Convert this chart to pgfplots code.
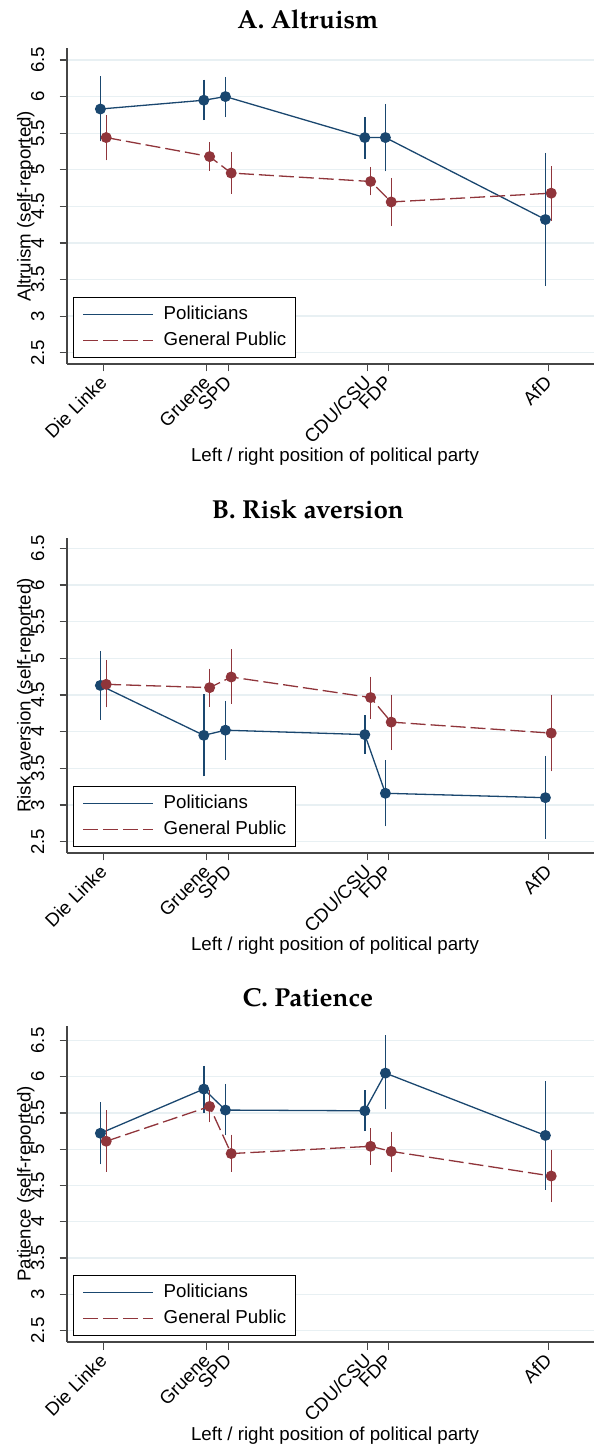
\documentclass[border=0pt]{standalone}
\usepackage{fontspec}
\setmainfont{Liberation Sans}
\newfontfamily\titlefont{TeX Gyre Pagella}
\usepackage{pgfplots}
\pgfplotsset{compat=1.18}
\usepackage{pgfplotstable}

\definecolor{stnavy}{RGB}{26,71,111}
\definecolor{stmaroon}{RGB}{144,53,59}
\definecolor{stgrid}{RGB}{232,240,243}
\definecolor{axgray}{RGB}{70,70,70}

% x = party position, pol/pub = means, Lo/Hi = confidence bounds
\pgfplotstableread{
x     pol   polLo polHi pub   pubLo pubHi
0.689 5.83  5.41  6.26  5.44  5.15  5.73
2.651 5.95  5.70  6.21  5.18  5.01  5.36
3.061 6.00  5.74  6.25  4.955 4.69  5.22
5.706 5.44  5.17  5.70  4.84  4.67  5.02
6.097 5.44  5.00  5.88  4.56  4.25  4.87
9.133 4.32  3.43  5.21  4.68  4.32  5.03
}\altruism
\pgfplotstableread{
x     pol   polLo polHi pub   pubLo pubHi
0.689 4.63  4.18  5.08  4.645 4.35  4.95
2.651 3.95  3.41  4.49  4.60  4.36  4.84
3.061 4.02  3.64  4.40  4.745 4.40  5.10
5.706 3.96  3.72  4.20  4.465 4.19  4.73
6.097 3.16  2.73  3.59  4.13  3.77  4.48
9.133 3.10  2.56  3.65  3.98  3.48  4.48
}\risk
\pgfplotstableread{
x     pol   polLo polHi pub   pubLo pubHi
0.689 5.22  4.81  5.63  5.11  4.71  5.52
2.651 5.83  5.52  6.13  5.59  5.39  5.80
3.061 5.54  5.21  5.88  4.94  4.71  5.18
5.706 5.53  5.27  5.79  5.04  4.80  5.27
6.097 6.05  5.57  6.55  4.97  4.71  5.22
9.133 5.19  4.46  5.92  4.63  4.29  4.97
}\patience

\pgfplotsset{
  panel/.style={
    scale only axis, width=527pt, height=316pt,
    xmin=0, xmax=10, ymin=2.346, ymax=6.664,
    axis x line*=bottom, axis y line*=left,
    axis line style={axgray, line width=1.2pt},
    xtick={0.689,2.651,3.061,5.706,6.097,9.133},
    xticklabels={Die Linke,Gruene,SPD,CDU/CSU,FDP,AfD},
    ytick={2.5,3,...,6.5},
    ymajorgrids, grid style={stgrid, line width=1.3pt},
    tick align=outside, major tick length=7.5pt,
    tick style={axgray, line width=1.2pt},
    /pgf/number format/assume math mode=true,
    ticklabel style={font=\fontsize{18.7}{22}\selectfont},
    xticklabel style={yshift=-8pt, rotate=45, anchor=east, inner sep=0pt},
    yticklabel style={xshift=-15.5pt, rotate=90, anchor=base, inner sep=0pt},
    label style={font=\fontsize{18.7}{22}\selectfont},
    xlabel={Left / right position of political party},
    xlabel style={at={(axis description cs:0.5,0)}, anchor=base, yshift=-98pt, xshift=4.5pt},
    ylabel style={at={(axis description cs:-0.069,0.5)}, anchor=base},
    title style={at={(axis description cs:0.457,1)}, anchor=base, yshift=13pt,
      font=\titlefont\bfseries\fontsize{26}{30}\selectfont},
    legend style={at={(axis description cs:0,0)}, anchor=south west,
      xshift=6pt, yshift=6pt, draw=black, line width=0.8pt,
      font=\fontsize{18.7}{22}\selectfont, inner xsep=9pt, inner ysep=8pt,
      nodes={inner sep=0pt, text height=13.5pt, text depth=4.5pt},
      row sep=8pt, column sep=10pt},
    legend cell align=left,
    legend image code/.code={\draw[#1] (0pt,0pt) -- (70pt,0pt);},
  },
  pol/.style={stnavy, line width=1.3pt, mark=*, mark size=4.8pt,
    error bars/.cd, y dir=both, y explicit,
    error bar style={stnavy, line width=1.4pt, solid},
    error mark options={stnavy, mark size=1.5pt, line width=1.4pt}},
  pub/.style={stmaroon, line width=1.3pt, dash pattern=on 15pt off 5pt,
    mark=*, mark size=4.8pt, mark options={solid},
    error bars/.cd, y dir=both, y explicit,
    error bar style={stmaroon, line width=1.4pt, solid},
    error mark options={stmaroon, mark size=1.5pt, line width=1.4pt, solid}},
}

\begin{document}
\begin{tikzpicture}
\useasboundingbox (0pt,0pt) rectangle (594pt,1448pt);

\begin{axis}[panel, at={(67pt,1084pt)}, anchor=south west,
  title={A. Altruism}, ylabel={Altruism (self-reported)}]
\addplot[pol] table[x expr=\thisrow{x}-0.055, y=pol,
  y error plus expr=\thisrow{polHi}-\thisrow{pol},
  y error minus expr=\thisrow{pol}-\thisrow{polLo}] {\altruism};
\addlegendentry{Politicians}
\addplot[pub] table[x expr=\thisrow{x}+0.055, y=pub,
  y error plus expr=\thisrow{pubHi}-\thisrow{pub},
  y error minus expr=\thisrow{pub}-\thisrow{pubLo}] {\altruism};
\addlegendentry{General Public}
\end{axis}

\begin{axis}[panel, at={(67pt,595pt)}, anchor=south west, height=315pt, ymax=6.64,
  title={B. Risk aversion}, ylabel={Risk aversion (self-reported)}]
\addplot[pol] table[x expr=\thisrow{x}-0.055, y=pol,
  y error plus expr=\thisrow{polHi}-\thisrow{pol},
  y error minus expr=\thisrow{pol}-\thisrow{polLo}] {\risk};
\addlegendentry{Politicians}
\addplot[pub] table[x expr=\thisrow{x}+0.055, y=pub,
  y error plus expr=\thisrow{pubHi}-\thisrow{pub},
  y error minus expr=\thisrow{pub}-\thisrow{pubLo}] {\risk};
\addlegendentry{General Public}
\end{axis}

\begin{axis}[panel, at={(67pt,106pt)}, anchor=south west, ymin=2.34, ymax=6.70,
  title={C. Patience}, ylabel={Patience (self-reported)}]
\addplot[pol] table[x expr=\thisrow{x}-0.055, y=pol,
  y error plus expr=\thisrow{polHi}-\thisrow{pol},
  y error minus expr=\thisrow{pol}-\thisrow{polLo}] {\patience};
\addlegendentry{Politicians}
\addplot[pub] table[x expr=\thisrow{x}+0.055, y=pub,
  y error plus expr=\thisrow{pubHi}-\thisrow{pub},
  y error minus expr=\thisrow{pub}-\thisrow{pubLo}] {\patience};
\addlegendentry{General Public}
\end{axis}
\end{tikzpicture}
\end{document}
